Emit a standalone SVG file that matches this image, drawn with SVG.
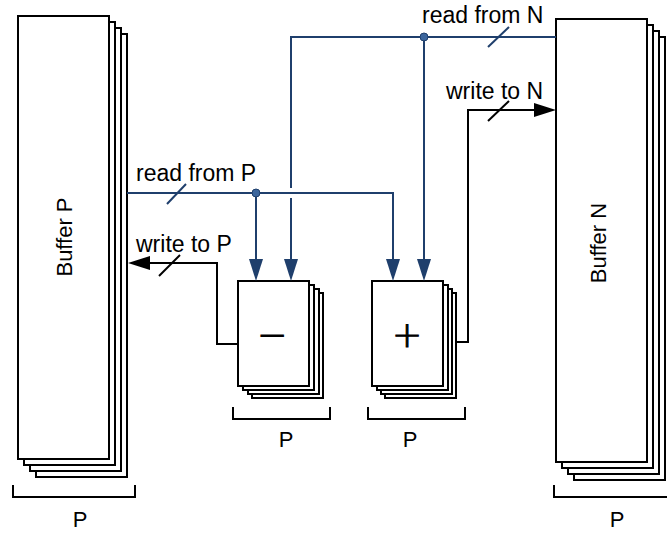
<svg xmlns="http://www.w3.org/2000/svg" width="667" height="533" viewBox="0 0 667 533">
<style>
.box{fill:#fff;stroke:#000;stroke-width:2}
.br{fill:none;stroke:#000;stroke-width:2}
.blue{fill:none;stroke:#1f3f6c;stroke-width:2}
.blk{fill:none;stroke:#000;stroke-width:2}
.t{font-family:"Liberation Sans",Arial,sans-serif;font-size:22px;fill:#000}
.lb{font-family:"Liberation Sans",Arial,sans-serif;font-size:23px;fill:#000}
.sym{font-family:"DejaVu Sans",sans-serif;font-weight:200;font-size:36px;fill:#000;stroke:#000;stroke-width:1;text-anchor:middle}
.dot{fill:#3b659c;stroke:#1f3f6c;stroke-width:1}
</style>
<defs>
<marker id="ab" markerUnits="userSpaceOnUse" markerWidth="22" markerHeight="14" refX="0" refY="7" orient="auto">
<path d="M0,0 L22,7 L0,14 z" fill="#1f3f6c"/>
</marker>
<marker id="ak" markerUnits="userSpaceOnUse" markerWidth="22" markerHeight="14" refX="0" refY="7" orient="auto">
<path d="M0,0 L22,7 L0,14 z" fill="#000"/>
</marker>
</defs>

<g id="bufferP">
<rect class="box" x="36" y="34" width="91" height="443"/>
<rect class="box" x="30" y="28" width="91" height="443"/>
<rect class="box" x="24" y="22" width="91" height="443"/>
<rect class="box" x="18" y="16" width="91" height="443"/>
<text class="t" text-anchor="middle" transform="translate(72,237) rotate(-90)">Buffer P</text>
<path class="br" d="M13,485 V497 H135 V485"/>
<text class="t" x="80" y="527" text-anchor="middle">P</text>
</g>

<g id="bufferN">
<rect class="box" x="574" y="37" width="91" height="443"/>
<rect class="box" x="568" y="31" width="91" height="443"/>
<rect class="box" x="562" y="25" width="91" height="443"/>
<rect class="box" x="556" y="19" width="91" height="443"/>
<text class="t" text-anchor="middle" transform="translate(606,243) rotate(-90)">Buffer N</text>
<path class="br" d="M554,485 V497 H680"/>
<text class="t" x="617" y="527" text-anchor="middle">P</text>
</g>

<g id="minus">
<rect class="box" x="252" y="293" width="71" height="105"/>
<rect class="box" x="248" y="289" width="71" height="105"/>
<rect class="box" x="243" y="285" width="71" height="105"/>
<rect class="box" x="238" y="281" width="71" height="105"/>
<text class="sym" x="272" y="347">−</text>
<path class="br" d="M233,407 V419 H330 V407"/>
<text class="t" x="286" y="447" text-anchor="middle">P</text>
</g>

<g id="plus">
<rect class="box" x="385" y="293" width="71" height="105"/>
<rect class="box" x="381" y="289" width="71" height="105"/>
<rect class="box" x="377" y="285" width="71" height="105"/>
<rect class="box" x="372" y="281" width="71" height="105"/>
<text class="sym" x="407" y="347">+</text>
<path class="br" d="M368,407 V419 H465 V407"/>
<text class="t" x="410" y="447" text-anchor="middle">P</text>
</g>

<g id="connectors">
<path class="blue" d="M127,193 H393 V259" marker-end="url(#ab)"/>
<path class="blue" d="M256,193 V259" marker-end="url(#ab)"/>
<path class="blue" d="M556,37 H291 V188"/>
<path class="blue" d="M291,198 V259" marker-end="url(#ab)"/>
<path class="blue" d="M424,37 V259" marker-end="url(#ab)"/>
<circle class="dot" cx="256" cy="193" r="4"/>
<circle class="dot" cx="424" cy="37" r="4"/>
<line class="blue" x1="167" y1="204" x2="186" y2="184"/>
<line class="blue" x1="488" y1="47" x2="509" y2="27"/>
<path class="blk" d="M238,344 H217 V263 H150" marker-end="url(#ak)"/>
<path class="blk" d="M456,342 H468 V110 H534" marker-end="url(#ak)"/>
<line class="blk" x1="159" y1="276" x2="180" y2="255"/>
<line class="blk" x1="488" y1="121" x2="509" y2="101"/>
<text class="lb" x="136" y="181">read from P</text>
<text class="lb" x="136" y="252">write to P</text>
<text class="lb" x="422" y="23">read from N</text>
<text class="lb" x="446" y="99">write to N</text>
</g>
</svg>
